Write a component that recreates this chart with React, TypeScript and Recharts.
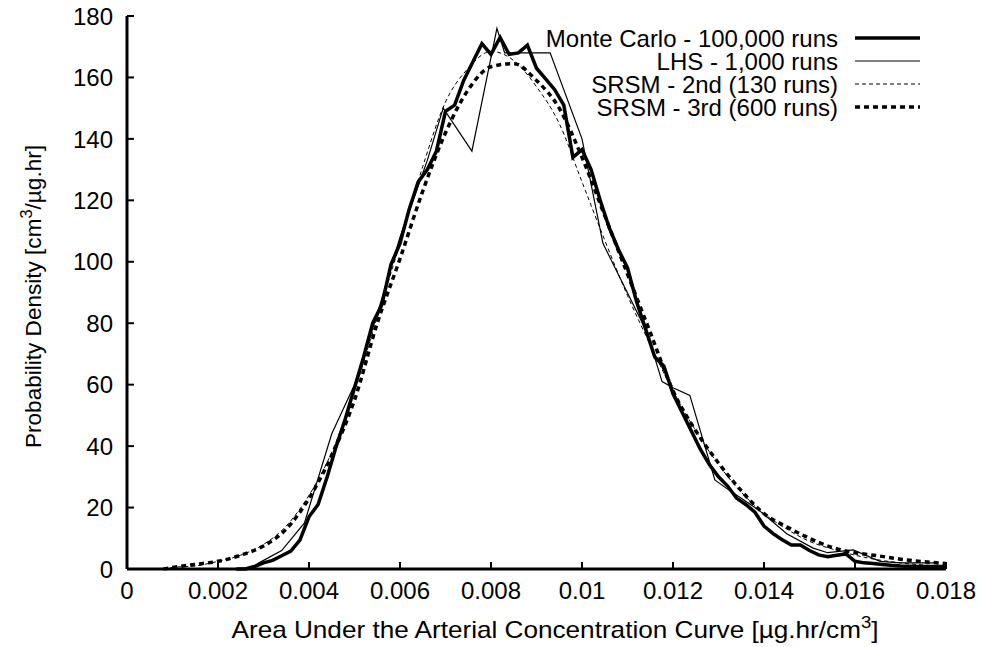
import React from 'react';
import { LineChart, Line, XAxis, YAxis, Customized } from 'recharts';

const FONT = '"Liberation Sans", Arial, Helvetica, sans-serif';

const xTicks = [0, 0.002, 0.004, 0.006, 0.008, 0.01, 0.012, 0.014, 0.016, 0.018];
const xTickLabels = ['0', '0.002', '0.004', '0.006', '0.008', '0.01', '0.012', '0.014', '0.016', '0.018'];
const yTicks = [0, 20, 40, 60, 80, 100, 120, 140, 160, 180];

const seriesNames = ['Monte Carlo - 100,000 runs', 'LHS - 1,000 runs', 'SRSM - 2nd (130 runs)', 'SRSM - 3rd (600 runs)'];

// Monte Carlo - 100,000 runs
const mcAuc = [
  0.0024, 0.0026, 0.0028, 0.0030, 0.0032, 0.0034, 0.0036, 0.0038, 0.0040, 0.0042,
  0.0044, 0.0046, 0.0048, 0.0050, 0.0052, 0.0054, 0.0056, 0.0058, 0.0060, 0.0062,
  0.0064, 0.0066, 0.0068, 0.0070, 0.0072, 0.0074, 0.0076, 0.0078, 0.0080, 0.0082,
  0.0084, 0.0086, 0.0088, 0.0090, 0.0092, 0.0094, 0.0096, 0.0098, 0.0100, 0.0102,
  0.0104, 0.0106, 0.0108, 0.0110, 0.0112, 0.0114, 0.0116, 0.0118, 0.0120, 0.0122,
  0.0124, 0.0126, 0.0128, 0.0130, 0.0132, 0.0134, 0.0136, 0.0138, 0.0140, 0.0142,
  0.0144, 0.0146, 0.0148, 0.0150, 0.0152, 0.0154, 0.0156, 0.0158, 0.0160, 0.0162,
  0.0164, 0.0166, 0.0168, 0.0170, 0.0172, 0.0174, 0.0176, 0.0178, 0.0180,
];
const mcDensity = [
  0, 0, 0.8, 2, 2.8, 4.3, 5.8, 9.4, 17, 21,
  30, 40, 49, 59, 69, 80, 86, 99, 106, 117,
  126, 130, 136, 149, 151, 159, 165, 171, 167.5, 173,
  167.5, 168, 170.5, 163, 159.5, 156, 151, 134, 136.5, 130,
  120, 111, 104, 98, 87, 78, 69, 66, 57, 51,
  45, 39, 34, 30, 27, 23, 21, 18.5, 14, 11.5,
  9.5, 7.8, 7.8, 6, 4.6, 4, 4.5, 4.9, 2.5, 2,
  1.8, 1.5, 1.2, 1, 0.9, 0.8, 0.8, 0.8, 0.8,
];

// LHS - 1,000 runs
const lhsAuc = [
  0.0027, 0.0029, 0.0034, 0.0039, 0.0045, 0.0050, 0.0055, 0.0060, 0.0066, 0.00695,
  0.00758, 0.00813, 0.0083, 0.0093, 0.0100, 0.01046, 0.01143, 0.01176, 0.0120, 0.01237,
  0.01292, 0.0132, 0.0139, 0.0145, 0.01508, 0.0154, 0.01596, 0.01655, 0.0170, 0.0178,
];
const lhsDensity = [
  0, 2, 6, 15, 44, 60, 83, 108, 133, 150,
  136, 176, 168, 168, 140, 106, 77, 61, 59, 56.5,
  29, 26, 19, 11.5, 6.8, 5.3, 6.2, 2.5, 2, 2,
];

// SRSM 2nd order and 3rd order
const srsmAuc = [
  0.0008, 0.0010, 0.0015, 0.0020, 0.0025, 0.0030, 0.0035, 0.0040, 0.0045, 0.0050,
  0.0055, 0.0060, 0.0065, 0.0070, 0.0075, 0.0080, 0.0085, 0.0090, 0.0095, 0.0100,
  0.0105, 0.0110, 0.0115, 0.0120, 0.0125, 0.0130, 0.0135, 0.0140, 0.0145, 0.0150,
  0.0155, 0.0160, 0.0165, 0.0170, 0.0175, 0.0180,
];
const srsm2Density = [
  0, 0.5, 1, 2.5, 4.5, 8, 14, 24, 38, 58,
  82, 106, 131, 152, 163, 168.5, 165.5, 157, 145, 126,
  107, 89, 73, 58, 45, 34, 25, 18, 13, 9,
  6.5, 4.5, 3, 2, 1.3, 0.9,
];
const srsm3Density = [
  0, 0.5, 1.5, 2.5, 4.5, 7.5, 13, 23, 37, 55,
  80, 101, 123, 142, 156, 163.5, 164.5, 159, 150, 134,
  115, 96, 77, 58, 45, 34.5, 25.5, 18, 13.7, 10,
  7, 5.3, 4.3, 3.2, 2.4, 1.8,
];

const zip = (xs: number[], ys: number[]) => xs.map((x, i) => ({ x, y: ys[i] }));
const mcData = zip(mcAuc, mcDensity);
const lhsData = zip(lhsAuc, lhsDensity);
const srsm2Data = zip(srsmAuc, srsm2Density);
const srsm3Data = zip(srsmAuc, srsm3Density);

const styles = [
  { width: 3.5, dash: undefined as string | undefined },
  { width: 1.2, dash: undefined as string | undefined },
  { width: 1, dash: '4 3' },
  { width: 3.5, dash: '5 4' },
];

const FS = 24;
const TICK = 7;

const BottomTick = (props: any) => {
  const { x, y, index } = props;
  return (
    <g>
      <line x1={x} x2={x} y1={y} y2={y - TICK} stroke="#000" strokeWidth={2} />
      <text x={x} y={y + 30} textAnchor="middle" fontFamily={FONT} fontSize={FS} fill="#000">
        {xTickLabels[index]}
      </text>
    </g>
  );
};
const TopTick = (props: any) => {
  const { x, y } = props;
  return <line x1={x} x2={x} y1={y} y2={y + TICK} stroke="#000" strokeWidth={2} />;
};
const LeftTick = (props: any) => {
  const { x, y, payload } = props;
  return (
    <g>
      <line x1={x} x2={x + TICK} y1={y} y2={y} stroke="#000" strokeWidth={2} />
      <text x={x - 14} y={y} dy="0.36em" textAnchor="end" fontFamily={FONT} fontSize={FS} fill="#000">
        {payload.value}
      </text>
    </g>
  );
};
const RightTick = (props: any) => {
  const { x, y } = props;
  return <line x1={x} x2={x - TICK} y1={y} y2={y} stroke="#000" strokeWidth={2} />;
};

const Decorations = () => (
  <g fontFamily={FONT} fill="#000">
    <text x={555} y={638} textAnchor="middle" fontSize={FS} textLength={647} lengthAdjust="spacingAndGlyphs">
      Area Under the Arterial Concentration Curve [µg.hr/cm
      <tspan fontSize={17} dy={-10}>3</tspan>
      <tspan dy={10}>]</tspan>
    </text>
    <text transform="translate(41,296.5) rotate(-90)" textAnchor="middle" fontSize={22}
      textLength={303} lengthAdjust="spacingAndGlyphs">
      Probability Density [cm
      <tspan fontSize={16} dy={-9}>3</tspan>
      <tspan dy={9}>/µg.hr]</tspan>
    </text>
    {seriesNames.map((name, i) => {
      const yy = 38 + i * 23;
      return (
        <g key={name}>
          <text x={838} y={yy} dy="0.36em" textAnchor="end" fontSize={FS}>{name}</text>
          <line x1={855} x2={920} y1={yy} y2={yy} stroke="#000" strokeWidth={styles[i].width}
            strokeDasharray={styles[i].dash} />
        </g>
      );
    })}
  </g>
);

export default function App() {
  return (
    <div style={{ position: 'absolute', left: 0, top: 0 }}>
      <LineChart width={986} height={647} margin={{ top: 16, right: 40, bottom: 0, left: 0 }}>
        <XAxis xAxisId={0} dataKey="x" type="number" domain={[0, 0.018]} ticks={xTicks}
          allowDataOverflow orientation="bottom" height={78} tickSize={0} tickMargin={0}
          tickLine={false} axisLine={{ stroke: '#000', strokeWidth: 3 }} tick={<BottomTick />}
          interval={0} />
        <XAxis xAxisId="top" dataKey="x" type="number" domain={[0, 0.018]} ticks={xTicks}
          allowDataOverflow orientation="top" height={0} tickSize={0} tickMargin={0}
          tickLine={false} axisLine={{ stroke: '#000', strokeWidth: 3 }} tick={<TopTick />}
          interval={0} />
        <YAxis yAxisId={0} type="number" domain={[0, 180]} ticks={yTicks} width={127}
          tickSize={0} tickMargin={0} tickLine={false} interval={0}
          axisLine={{ stroke: '#000', strokeWidth: 3 }} tick={<LeftTick />} />
        <YAxis yAxisId="right" orientation="right" type="number" domain={[0, 180]} ticks={yTicks} width={0}
          tickSize={0} tickMargin={0} tickLine={false} interval={0}
          axisLine={{ stroke: '#000', strokeWidth: 3 }} tick={<RightTick />} />
        <Line data={srsm2Data} dataKey="y" type="monotone" stroke="#000" strokeWidth={1}
          strokeDasharray="4 3" dot={false} isAnimationActive={false} />
        <Line data={srsm3Data} dataKey="y" type="monotone" stroke="#000" strokeWidth={3.5}
          strokeDasharray="5 4" dot={false} isAnimationActive={false} />
        <Line data={lhsData} dataKey="y" type="linear" stroke="#000" strokeWidth={1.2}
          dot={false} isAnimationActive={false} />
        <Line data={mcData} dataKey="y" type="linear" stroke="#000" strokeWidth={3.5}
          strokeLinejoin="miter" dot={false} isAnimationActive={false} />
        <Customized component={Decorations} />
      </LineChart>
    </div>
  );
}
